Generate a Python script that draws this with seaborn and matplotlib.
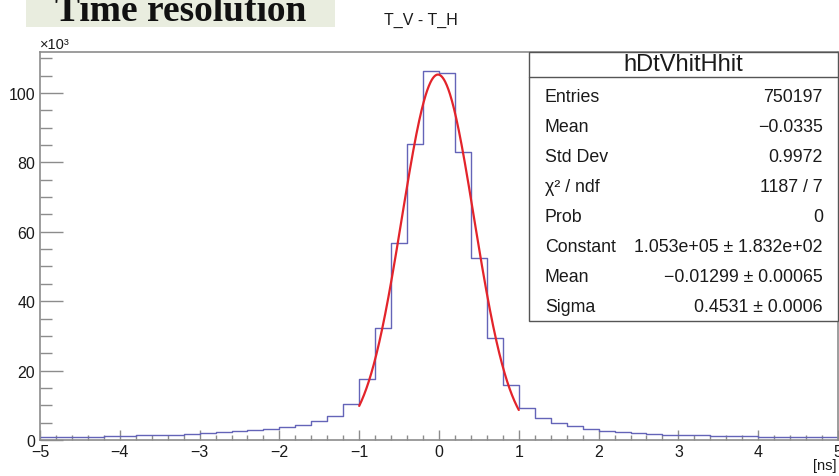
import numpy as np
import pandas as pd
import matplotlib
matplotlib.use("Agg")
import matplotlib.pyplot as plt
from matplotlib.patches import Rectangle
from matplotlib.lines import Line2D
from matplotlib.ticker import MultipleLocator
import seaborn as sns

# ---------------- data (counts in units of 10^3) ----------------
bin_lo, bin_hi, bin_w = -5.0, 5.0, 0.2
counts_k = [0.8, 0.85, 0.9, 0.95, 1.1, 1.2, 1.3, 1.4, 1.5, 1.7,
            1.9, 2.2, 2.5, 2.9, 3.3, 3.8, 4.3, 5.4, 6.9, 10.3,
            17.6, 32.2, 56.7, 85.3, 106.4, 105.7, 83.0, 52.3, 29.3, 15.9,
            9.2, 6.3, 4.9, 3.9, 3.2, 2.6, 2.3, 1.9, 1.6, 1.5,
            1.4, 1.3, 1.2, 1.1, 1.05, 1.0, 0.95, 0.9, 0.85, 0.8]
fit_constant = 1.053e5
fit_mean = -0.01299
fit_sigma = 0.4531
fit_range = (-1.0, 1.0)

stat_labels = ["Entries", "Mean", "Std Dev", "\u03c7\u00b2 / ndf", "Prob",
               "Constant", "Mean", "Sigma"]
stat_values = ["750197", "\u22120.0335", "0.9972", "1187 / 7", "0",
               "1.053e+05 \u00b1 1.832e+02", "\u22120.01299 \u00b1 0.00065",
               "0.4531 \u00b1 0.0006"]
x_ticks = [-5, -4, -3, -2, -1, 0, 1, 2, 3, 4, 5]
y_ticks = [0, 20, 40, 60, 80, 100]

# ---------------- style ----------------
sns.set_style("ticks")
plt.rcParams["font.family"] = ["Liberation Sans", "DejaVu Sans"]
plt.rcParams["axes.unicode_minus"] = True

W, H = 839, 477
fig = plt.figure(figsize=(W / 100, H / 100), dpi=100)

def fx(px):
    return px / W

def fy(py):
    return 1 - py / H

ax_l, ax_r, ax_t, ax_b = 40, 838, 53, 441
ax = fig.add_axes([fx(ax_l), fy(ax_b), fx(ax_r) - fx(ax_l), fy(ax_t) - fy(ax_b)])

n_bins = len(counts_k)
centers = bin_lo + bin_w * (np.arange(n_bins) + 0.5)
df = pd.DataFrame({"t": centers, "w": counts_k})
sns.histplot(data=df, x="t", weights="w", binwidth=bin_w,
             binrange=(bin_lo, bin_hi), element="step",
             fill=False, color="#6464b8", linewidth=1.0, ax=ax)

xf = np.linspace(fit_range[0], fit_range[1], 400)
yf = fit_constant * np.exp(-0.5 * ((xf - fit_mean) / fit_sigma) ** 2) / 1000.0
sns.lineplot(x=xf, y=yf, color="#e3242b", linewidth=1.6, ax=ax)

ax.set_xlim(-5, 5)
ax.set_ylim(0, 111.8)
ax.set_xlabel("")
ax.set_ylabel("")
ax.set_xticks(x_ticks)
ax.set_yticks(y_ticks)
ax.xaxis.set_minor_locator(MultipleLocator(0.2))
ax.yaxis.set_minor_locator(MultipleLocator(5))
grey = "#8c8c8c"
for s in ax.spines.values():
    s.set_color(grey)
    s.set_linewidth(1.2)
ax.tick_params(axis="x", which="major", direction="in", length=7.2, width=1,
               color=grey, labelsize=11.5, pad=3, labelcolor="#1a1a1a")
ax.tick_params(axis="x", which="minor", direction="in", length=3.6, width=1,
               color=grey)
ax.tick_params(axis="y", which="major", direction="in", length=16.5, width=1,
               color=grey, labelsize=11.5, pad=3.5, labelcolor="#1a1a1a")
ax.tick_params(axis="y", which="minor", direction="in", length=8.5, width=1,
               color=grey)

# exponent label and axis unit
fig.text(fx(40), fy(45), "\u00d710\u00b3", fontsize=10.5, ha="left",
         va="center", color="#1a1a1a")
fig.text(fx(837), fy(466), "[ns]", fontsize=10.5, ha="right", va="center",
         color="#1a1a1a")

# title
fig.text(fx(421), fy(20), "T_V - T_H", fontsize=11.5, ha="center", va="center",
         color="#1a1a1a")

# "Time resolution" overlay box
fig.add_artist(Rectangle((fx(26), fy(28)), fx(335) - fx(26), fy(0) - fy(28),
                         transform=fig.transFigure, facecolor="#e9eddf",
                         edgecolor="none", zorder=5))
fig.text(fx(181), fy(21), "Time resolution", fontsize=27, fontweight="bold",
         family=["Liberation Serif", "DejaVu Serif"], ha="center",
         va="baseline", color="#111111", zorder=6)

# stats box
bx_l, bx_r, bx_t, bx_b = 529, 838, 53, 322
fig.add_artist(Rectangle((fx(bx_l), fy(bx_b)), fx(bx_r) - fx(bx_l),
                         fy(bx_t) - fy(bx_b), transform=fig.transFigure,
                         facecolor="white", edgecolor="#555555",
                         linewidth=1.0, zorder=5))
fig.add_artist(Line2D([fx(bx_l), fx(bx_r)], [fy(78), fy(78)],
                      transform=fig.transFigure, color="#555555",
                      linewidth=1.0, zorder=6))
fig.text(fx((bx_l + bx_r) / 2), fy(65), "hDtVhitHhit", fontsize=17,
         ha="center", va="center", color="#1a1a1a", zorder=7)
row_y = [98, 128, 158, 188, 218, 248, 278, 307]
for yy, lab, val in zip(row_y, stat_labels, stat_values):
    fig.text(fx(545), fy(yy), lab, fontsize=12.8, ha="left", va="center",
             color="#1a1a1a", zorder=7)
    fig.text(fx(823), fy(yy), val, fontsize=12.8, ha="right", va="center",
             color="#1a1a1a", zorder=7)

fig.savefig("out.png", dpi=100)
